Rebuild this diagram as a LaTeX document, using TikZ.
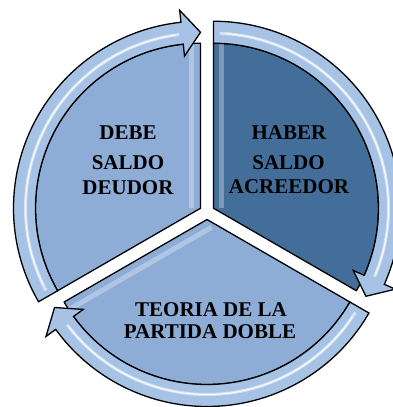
\documentclass[tikz,border=0pt]{standalone}
\usepackage{fontspec}
\setmainfont{Liberation Serif}
\definecolor{seglight}{HTML}{8DADD6}
\definecolor{segdark}{HTML}{446E9A}
\definecolor{bandblue}{HTML}{A6C3E6}
\begin{document}
\begin{tikzpicture}[x=1pt,y=1pt,
  seg/.style={draw=black, line width=1.3pt, line join=round},
  band/.style={draw=black, line width=1.3pt, fill=bandblue, line join=miter},
  shine/.style={draw=white, line width=3pt, opacity=0.55},
  shinecore/.style={draw=white, line width=1pt, opacity=0.85},
  edgeshine/.style={draw=white, line width=5pt, opacity=0.3},
  lbl/.style={font=\fontsize{21}{22}\selectfont\bfseries, anchor=base, inner sep=0pt, text=black}]
\useasboundingbox (-207,-195) rectangle (186,212);

% ---------- segments ----------
\begin{scope}[shift={(-6.5,3.75)}]
  \path[seg, fill=seglight] (0,0) -- (90:165) arc[start angle=90, end angle=210, radius=165] -- cycle;
  \begin{scope}
    \clip (0,0) -- (90:165) arc[start angle=90, end angle=210, radius=165] -- cycle;
    \draw[edgeshine] (-9,0) -- (-9,165);
  \end{scope}
\end{scope}
\begin{scope}[shift={(6.5,3.75)}]
  \path[seg, fill=segdark] (0,0) -- (90:165) arc[start angle=90, end angle=-30, radius=165] -- cycle;
  \begin{scope}
    \clip (0,0) -- (90:165) arc[start angle=90, end angle=-30, radius=165] -- cycle;
    \draw[edgeshine] (8,0) -- (8,165);
  \end{scope}
\end{scope}
\begin{scope}[shift={(0,-7.5)}]
  \path[seg, fill=seglight] (0,0) -- (210:165) arc[start angle=210, end angle=330, radius=165] -- cycle;
  \begin{scope}
    \clip (0,0) -- (210:165) arc[start angle=210, end angle=330, radius=165] -- cycle;
    \draw[edgeshine] (300:9) -- ++(210:170);
  \end{scope}
\end{scope}

% ---------- arrows ----------
\begin{scope}[shift={(-6.5,3.75)}]
  \path[band] (210:187) arc[start angle=210, end angle=96, radius=187] -- (96:199) -- (90:176) -- (96:153) -- (96:165) arc[start angle=96, end angle=210, radius=165] -- cycle;
  \draw[shine] (208:175) arc[start angle=208, end angle=97, radius=175];
  \draw[shinecore] (206:175) arc[start angle=206, end angle=98, radius=175];
\end{scope}
\begin{scope}[shift={(6.5,3.75)}]
  \path[band] (90:187) arc[start angle=90, end angle=-24, radius=187] -- (-24:199) -- (-30:176) -- (-24:153) -- (-24:165) arc[start angle=-24, end angle=90, radius=165] -- cycle;
  \draw[shine] (88:175) arc[start angle=88, end angle=-23, radius=175];
  \draw[shinecore] (86:175) arc[start angle=86, end angle=-22, radius=175];
\end{scope}
\begin{scope}[shift={(0,-7.5)}]
  \path[band] (330:187) arc[start angle=330, end angle=216, radius=187] -- (216:199) -- (210:176) -- (216:153) -- (216:165) arc[start angle=216, end angle=330, radius=165] -- cycle;
  \draw[shine] (328:175) arc[start angle=328, end angle=217, radius=175];
  \draw[shinecore] (326:175) arc[start angle=326, end angle=218, radius=175];
\end{scope}

% ---------- labels ----------
\node[lbl] (debe) at (-79,72.5) {DEBE};
\node[lbl] (saldoD) at (-79,42.5) {SALDO};
\node[lbl] (deudor) at (-79,18) {DEUDOR};
\node[lbl] (haber) at (82,72.5) {HABER};
\node[lbl] (saldoA) at (81.5,42.5) {SALDO};
\node[lbl] (acreedor) at (82,19) {ACREEDOR};
\node[lbl] (teoria) at (4,-104) {TEORIA DE LA};
\node[lbl] (partida) at (3,-126) {PARTIDA DOBLE};
\end{tikzpicture}
\end{document}
